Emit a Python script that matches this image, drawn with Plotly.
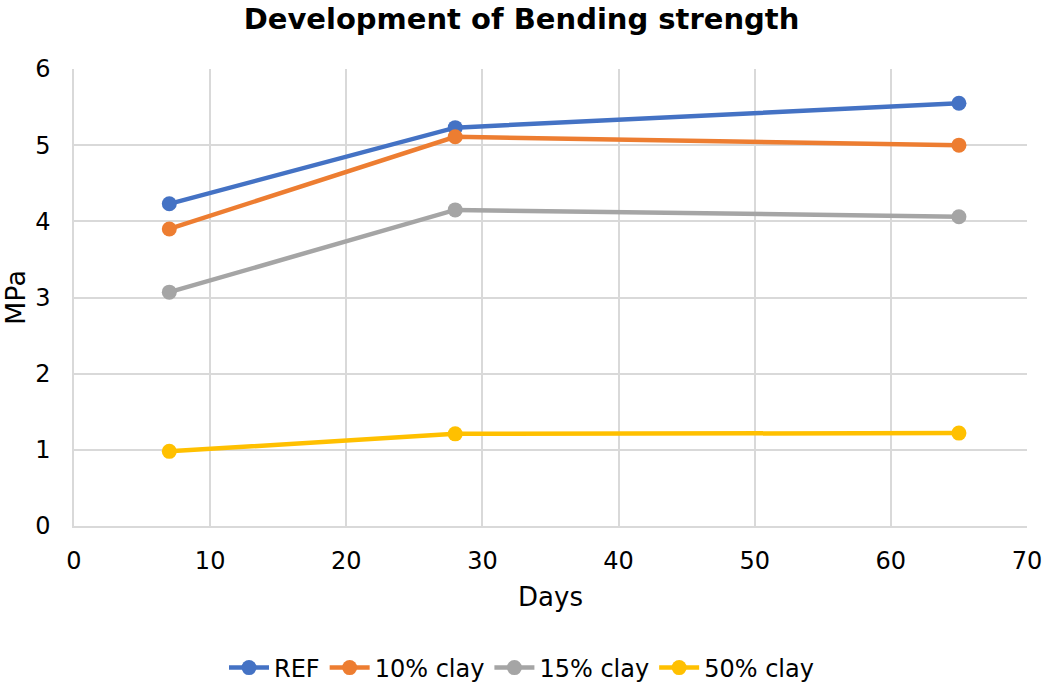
import plotly.graph_objects as go

days = [7, 28, 65]
series_names = ["REF", "10% clay", "15% clay", "50% clay"]
ref = [4.23, 5.23, 5.55]
clay10 = [3.90, 5.11, 5.00]
clay15 = [3.07, 4.15, 4.06]
clay50 = [0.98, 1.21, 1.22]
colors = ["#4472C4", "#ED7D31", "#A5A5A5", "#FFC000"]

fig = go.Figure()
for name, vals, c in zip(series_names, [ref, clay10, clay15, clay50], colors):
    fig.add_trace(go.Scatter(x=days, y=vals, name=name, mode="lines+markers",
                             line=dict(color=c, width=4.5),
                             marker=dict(color=c, size=15)))

font_family = "DejaVu Sans, Verdana, sans-serif"
fig.update_layout(
    width=1043, height=684,
    margin=dict(l=74, r=16, t=69, b=158),
    paper_bgcolor="white", plot_bgcolor="white",
    font=dict(family=font_family, size=24, color="#000000"),
    title=dict(text="<b>Development of Bending strength</b>", x=0.5, xanchor="center",
               y=0.973, yanchor="middle", font=dict(size=29, color="#000000")),
    xaxis=dict(range=[0, 70], dtick=10, showgrid=True, gridcolor="#d9d9d9", gridwidth=1.5,
               showline=True, linecolor="#d9d9d9", linewidth=1.5, zeroline=False,
               ticks="", tickfont=dict(size=24), ticklabelstandoff=12, automargin=False,
               title=dict(text="Days", font=dict(size=26), standoff=14)),
    yaxis=dict(range=[0, 6], dtick=1, showgrid=True, gridcolor="#d9d9d9", gridwidth=1.5,
               showline=True, linecolor="#d9d9d9", linewidth=1.5, zeroline=False,
               ticks="", tickfont=dict(size=24), ticklabelstandoff=17, automargin=False,
               title=dict(text="MPa", font=dict(size=27), standoff=10)),
    legend=dict(orientation="h", x=0.5, xanchor="center", xref="container",
                y=1 - 668 / 684, yanchor="middle", yref="container",
                font=dict(size=24), itemwidth=40, traceorder="normal"),
    showlegend=True,
)
fig.write_html("out.html")
